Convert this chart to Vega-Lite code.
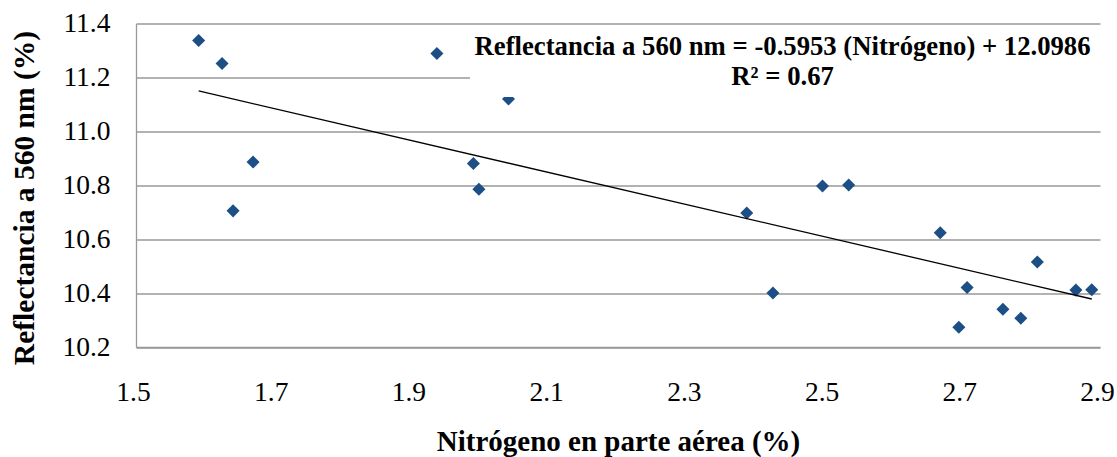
{
  "$schema": "https://vega.github.io/schema/vega-lite/v6.json",
  "width": 964,
  "height": 323.5,
  "autosize": "none",
  "padding": {"left": 136, "top": 23.5, "right": 17, "bottom": 110},
  "background": "white",
  "config": {"view": {"stroke": null}, "font": "Liberation Serif"},
  "data": {
    "values": [
      {"nitrogeno": 1.591, "reflectancia": 11.337},
      {"nitrogeno": 1.625, "reflectancia": 11.252},
      {"nitrogeno": 1.670, "reflectancia": 10.886},
      {"nitrogeno": 1.641, "reflectancia": 10.705},
      {"nitrogeno": 1.937, "reflectancia": 11.289},
      {"nitrogeno": 2.041, "reflectancia": 11.12},
      {"nitrogeno": 1.990, "reflectancia": 10.881},
      {"nitrogeno": 1.998, "reflectancia": 10.785},
      {"nitrogeno": 2.387, "reflectancia": 10.697},
      {"nitrogeno": 2.425, "reflectancia": 10.400},
      {"nitrogeno": 2.497, "reflectancia": 10.797},
      {"nitrogeno": 2.535, "reflectancia": 10.801},
      {"nitrogeno": 2.668, "reflectancia": 10.624},
      {"nitrogeno": 2.695, "reflectancia": 10.273},
      {"nitrogeno": 2.707, "reflectancia": 10.421},
      {"nitrogeno": 2.759, "reflectancia": 10.340},
      {"nitrogeno": 2.785, "reflectancia": 10.307},
      {"nitrogeno": 2.809, "reflectancia": 10.515},
      {"nitrogeno": 2.865, "reflectancia": 10.411},
      {"nitrogeno": 2.888, "reflectancia": 10.412}
    ]
  },
  "layer": [
    {
      "mark": {"type": "point", "shape": "diamond", "filled": true, "size": 170, "color": "#1b4f86", "opacity": 1},
      "encoding": {
        "x": {
          "field": "nitrogeno", "type": "quantitative",
          "scale": {"domain": [1.5, 2.9], "nice": false, "zero": false},
          "axis": {
            "values": [1.5, 1.7, 1.9, 2.1, 2.3, 2.5, 2.7, 2.9],
            "format": ".1f",
            "grid": false,
            "ticks": false, "tickSize": 0,
            "domain": true, "domainColor": "#999999", "domainWidth": 1.3,
            "labelFont": "Liberation Serif", "labelFontSize": 27.5, "labelColor": "#000000",
            "labelPadding": 31, "labelBaseline": "top", "labelFlush": false, "labelOffset": -3,
            "title": "Nitrógeno en parte aérea (%)",
            "titleFont": "Liberation Serif", "titleFontWeight": "bold", "titleFontSize": 29,
            "titleColor": "#000000", "titleY": 103, "titleBaseline": "alphabetic"
          }
        },
        "y": {
          "field": "reflectancia", "type": "quantitative",
          "scale": {"domain": [10.2, 11.4], "nice": false, "zero": false},
          "axis": {
            "values": [10.2, 10.4, 10.6, 10.8, 11.0, 11.2, 11.4],
            "format": ".1f",
            "grid": true, "gridColor": "#999999", "gridWidth": 1.3,
            "ticks": false, "tickSize": 0,
            "domain": true, "domainColor": "#999999", "domainWidth": 1.3,
            "labelFont": "Liberation Serif", "labelFontSize": 27.5, "labelColor": "#000000",
            "labelPadding": 26, "labelFlush": false,
            "title": "Reflectancia a 560 nm (%)",
            "titleFont": "Liberation Serif", "titleFontWeight": "bold", "titleFontSize": 29.5,
            "titleColor": "#000000", "titleX": -103, "titleY": 174, "titleBaseline": "alphabetic"
          }
        }
      }
    },
    {
      "mark": {"type": "line", "color": "#000000", "strokeWidth": 1.3},
      "transform": [{"regression": "reflectancia", "on": "nitrogeno"}],
      "encoding": {
        "x": {"field": "nitrogeno", "type": "quantitative"},
        "y": {"field": "reflectancia", "type": "quantitative"}
      }
    },
    {
      "data": {"values": [{}]},
      "mark": {"type": "rect", "fill": "white"},
      "encoding": {
        "x": {"datum": 1.985}, "x2": {"datum": 2.91},
        "y": {"datum": 11.127}, "y2": {"datum": 11.36}
      }
    },
    {
      "data": {"values": [{}]},
      "mark": {"type": "text", "font": "Liberation Serif", "fontWeight": "bold", "fontSize": 26.7, "align": "center", "baseline": "alphabetic", "lineHeight": 30, "color": "#000000"},
      "encoding": {
        "x": {"datum": 2.439},
        "y": {"datum": 11.283},
        "text": {"value": ["Reflectancia a 560 nm = -0.5953 (Nitrógeno) + 12.0986", "R² = 0.67"]}
      }
    }
  ]
}
